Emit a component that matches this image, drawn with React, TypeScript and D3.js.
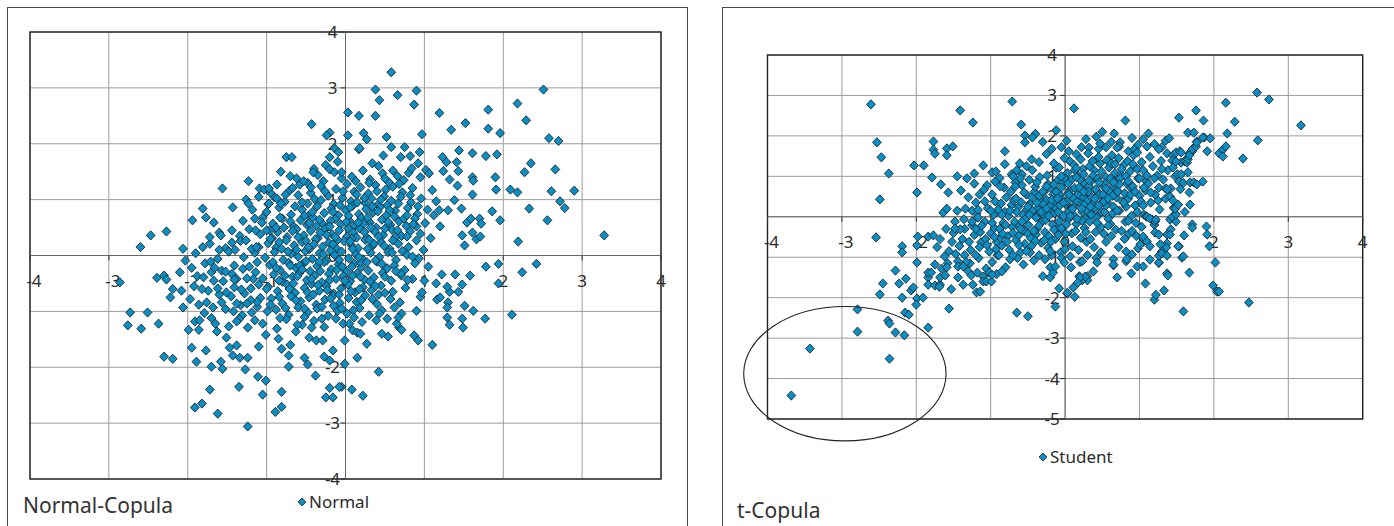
import { useEffect, useRef } from "react"
import * as d3 from "d3"

type Pt = [number, number]

// axis ticks
const normalTicksX = [-4, -3, -2, -1, 0, 1, 2, 3, 4]
const normalTicksY = [-4, -3, -2, -1, 0, 1, 2, 3, 4]
const studentTicksX = [-4, -3, -2, -1, 0, 1, 2, 3, 4]
const studentTicksY = [-5, -4, -3, -2, -1, 0, 1, 2, 3, 4]

// Normal copula: scattered outer points
const normalOuter: Pt[] = [
  [0.03,2.56],[0.17,2.5],[-0.43,2.35],[-0.2,2.2],[-0.24,2.15],[0.03,2.15],[0.17,1.9],[-0.14,1.92],[-0.09,1.85],[-0.75,1.76],
  [-0.68,1.76],[-0.2,1.76],[-0.1,1.68],[-0.82,1.5],[-0.41,1.49],[-0.53,1.33],[-0.2,1.54],[-0.14,1.49],[-0.05,1.49],[-1.56,1.2],
  [-1.23,1.33],[-1.09,1.2],[-1.03,1.18],[-0.97,1.2],[-1.26,1.0],[-1.23,0.93],[-0.87,1.02],[-0.97,0.93],[-0.82,0.93],[-1.81,0.84],
  [-1.43,0.86],[-1.94,0.63],[-1.77,0.68],[-1.67,0.59],[-2.47,0.36],[-2.27,0.43],[-2.6,0.15],[-2.06,0.12],[-1.81,0.15],[-1.72,0.33],
  [-1.58,0.36],[-1.44,0.45],[-1.44,0.23],[-1.15,0.66],[-1.06,0.59],[-1.14,0.45],[-1.26,0.27],[-1.19,0.12],[-1.13,0.15],[-1.0,0.45],
  [-0.95,0.3],
  [0.58,3.28],[0.38,2.97],[0.9,2.95],[0.43,2.78],[0.66,2.87],[0.87,2.7],[0.38,2.5],[1.19,2.55],[1.81,2.61],[2.18,2.72],
  [2.51,2.97],[2.29,2.42],[1.34,2.25],[1.52,2.37],[1.81,2.27],[1.96,2.19],[2.58,2.1],[2.7,2.05],[0.23,2.19],[0.27,2.08],
  [0.52,2.12],[0.97,2.17],[0.18,1.92],[0.58,1.94],[0.75,1.94],[0.48,1.79],[0.7,1.76],[0.82,1.78],[0.94,1.85],[0.34,1.65],
  [0.84,1.56],[0.92,1.65],[1.23,1.76],[1.28,1.67],[1.44,1.88],[1.61,1.83],[1.78,1.78],[1.92,1.81],[1.41,1.67],[1.43,1.51],
  [2.35,1.65],[2.27,1.49],[2.66,1.54],[1.06,1.47],[1.24,1.51],[1.32,1.36],[1.42,1.25],[1.61,1.4],[1.62,1.34],[1.9,1.4],
  [1.91,1.18],[1.61,1.09],[2.09,1.18],[2.18,1.13],[2.61,1.15],[2.9,1.16],[2.72,0.97],[2.78,0.85],[2.33,0.84],[2.56,0.63],
  [1.86,0.79],[1.96,0.63],[2.19,0.25],[3.28,0.36],[2.42,-0.15],[1.19,0.81],[1.3,0.81],[1.38,0.99],[1.47,0.84],[1.54,0.59],
  [1.59,0.66],[1.7,0.66],[1.72,0.57],[1.61,0.41],[1.66,0.29],[1.71,0.34],[1.48,0.36],[1.51,0.18],[1.78,-0.2],[1.94,-0.15],
  [2.24,-0.3],[1.94,-0.5],[2.11,-1.06],[1.77,-1.13],[1.62,-0.99],[1.51,-0.9],[1.48,-1.13],[1.49,-1.29],[1.58,-0.36],[1.39,-0.34],
  [1.43,-0.65],[1.48,-0.52],[1.32,-0.65],[1.29,-0.56],[1.3,-0.84],[1.29,-0.93],[1.29,-1.11],[1.32,-1.24],[1.15,-0.5],[1.22,-0.34],
  [1.16,-0.79],[1.2,-0.75],[1.1,-1.6],[0.9,-0.99],[0.97,-0.66],[0.87,-1.43],[0.92,-1.52],[0.42,-2.08],[0.15,-1.83],[0.08,-2.4],
  [0.22,-2.51],[-0.05,-2.35],[-0.01,-1.94],[0.27,-1.58],[0.46,-1.4],[0.54,-1.45],[0.68,-1.29],[0.71,-1.33],[0.65,-1.22],[0.39,-1.16],
  [0.43,-1.04],[0.53,-1.13],[0.71,-1.04],[0.67,-1.11],[0.09,-1.34],[0.15,-1.38],[0.19,-1.4],[-0.01,-1.52],[0.05,-1.22],[0.11,-1.11],
  [-2.86,-0.48],[-2.39,-0.4],[-2.3,-0.36],[-2.27,-0.43],[-2.1,-0.3],[-2.19,-0.6],[-2.08,-0.63],[-2.22,-0.75],[-2.06,-0.93],[-2.73,-1.02],
  [-2.51,-1.02],[-2.76,-1.25],[-2.59,-1.31],[-2.37,-1.22],[-1.99,-1.33],[-1.86,-1.33],[-1.95,-1.65],[-1.77,-1.7],[-1.89,-1.9],[-2.3,-1.81],
  [-2.19,-1.85],[-1.7,-1.99],[-1.58,-1.9],[-1.56,-2.03],[-1.72,-2.4],[-1.91,-2.72],[-1.82,-2.65],[-1.62,-2.83],[-1.35,-2.35],[-1.27,-2.04],
  [-1.24,-3.06],[-1.11,-2.17],[-1.01,-2.24],[-1.05,-2.49],[-0.89,-2.8],[-0.81,-2.71],[-0.81,-2.44],[-0.85,-1.49],[-0.81,-1.67],[-0.72,-1.79],
  [-0.72,-1.99],[-0.7,-1.6],[-0.38,-2.15],[-0.52,-1.83],[-0.48,-1.95],[-0.25,-2.54],[-0.16,-2.54],[-0.2,-2.37],[-0.08,-2.35],[-0.27,-1.81],
  [-0.16,-1.7],[-0.2,-1.88],[-1.38,-1.61],[-1.43,-1.79],[-1.34,-1.83],[-1.24,-1.83],[-1.51,-1.47],[-1.47,-1.65],[-1.1,-1.63],[-1.01,-1.42],
  [-0.87,-1.31],[-0.63,-1.36],[-0.61,-1.24],[-0.43,-1.29],[-0.46,-1.47],[-0.37,-1.52],[-0.29,-1.52],
  [-2.03,-0.09],[-1.71,-0.11],[-1.66,-0.22],[-1.8,-0.39],[-1.67,-0.45],[-1.62,-0.59],[-1.52,-0.29],[-1.51,-0.66],[-1.86,-0.88],[-1.76,-0.84],
  [-1.85,-1.16],[-1.68,-0.93],[-1.65,-1.22],[-1.63,-1.36],[-1.41,-0.43],[-1.38,-0.86],[-1.38,-1.18],[-1.25,-0.41],[-1.2,-0.59],[-1.32,-0.61],
  [-1.25,-0.86],[-1.19,-1.02],[-1.15,-1.16],[-1.24,-1.29],
]

// Normal copula: dense centre of the cloud
const normalCore: Pt[] = [
  [-0.62,1.38],[-0.35,1.44],[-0.28,1.33],[0.08,1.41],[0.22,1.52],[0.31,1.36],[0.47,1.47],[0.55,1.31],[0.66,1.42],[0.74,1.35],[0.95,1.4],[1.02,1.53],
  [-0.71,1.16],[-0.58,1.27],[-0.44,1.12],[-0.31,1.24],[-0.12,1.19],[0.02,1.28],[0.11,1.14],[0.19,1.22],[0.29,1.11],[0.38,1.26],[0.51,1.18],[0.6,1.23],[0.72,1.13],[0.85,1.21],[1.1,1.17],
  [-0.9,1.04],[-0.77,0.96],[-0.6,1.08],[-0.48,0.93],[-0.39,1.01],[-0.22,1.07],[-0.15,0.92],[-0.04,1.03],[0.07,0.97],[0.14,1.09],[0.25,0.94],[0.33,1.02],[0.41,0.91],[0.49,1.06],[0.58,0.98],[0.7,1.05],[0.83,0.95],[0.96,1.02],[1.15,0.97],
  [-1.0,0.78],[-0.84,0.86],[-0.69,0.73],[-0.55,0.82],[-0.47,0.71],[-0.36,0.88],[-0.27,0.76],[-0.18,0.84],[-0.09,0.72],[0.0,0.81],[0.09,0.89],[0.17,0.74],[0.26,0.83],[0.35,0.77],[0.44,0.87],[0.52,0.72],[0.63,0.8],[0.79,0.85],[0.91,0.74],[1.04,0.82],
  [-0.92,0.57],[-0.8,0.66],[-0.66,0.52],[-0.57,0.63],[-0.49,0.55],[-0.41,0.68],[-0.3,0.58],[-0.23,0.51],[-0.13,0.65],[-0.06,0.56],[0.05,0.62],[0.12,0.53],[0.2,0.67],[0.31,0.59],[0.39,0.5],[0.46,0.64],[0.57,0.55],[0.68,0.61],[0.77,0.53],[0.88,0.66],[1.01,0.58],
  [-0.86,0.42],[-0.74,0.33],[-0.62,0.47],[-0.53,0.36],[-0.44,0.44],[-0.35,0.31],[-0.26,0.48],[-0.17,0.38],[-0.08,0.45],[0.02,0.34],[0.1,0.41],[0.18,0.49],[0.27,0.32],[0.37,0.43],[0.48,0.37],[0.59,0.46],[0.71,0.35],[0.82,0.43],[0.95,0.39],
  [-0.98,0.22],[-0.88,0.14],[-0.75,0.27],[-0.65,0.18],[-0.55,0.24],[-0.46,0.11],[-0.38,0.29],[-0.29,0.16],[-0.21,0.23],[-0.11,0.12],[-0.02,0.26],[0.07,0.19],[0.16,0.13],[0.25,0.28],[0.34,0.17],[0.45,0.24],[0.56,0.12],[0.67,0.21],[0.8,0.15],[0.9,0.27],
  [-1.02,-0.04],[-0.9,0.06],[-0.79,-0.08],[-0.69,0.03],[-0.6,-0.02],[-0.51,0.08],[-0.42,-0.06],[-0.33,0.04],[-0.24,-0.09],[-0.14,0.01],[-0.05,0.07],[0.04,-0.05],[0.13,0.02],[0.22,-0.07],[0.32,0.05],[0.43,-0.03],[0.54,0.06],[0.64,-0.08],[0.78,0.01],[0.93,-0.05],
  [-0.96,-0.17],[-0.83,-0.26],[-0.72,-0.13],[-0.63,-0.22],[-0.54,-0.15],[-0.45,-0.28],[-0.36,-0.19],[-0.27,-0.12],[-0.18,-0.25],[-0.09,-0.16],[0.01,-0.29],[0.11,-0.14],[0.2,-0.21],[0.29,-0.27],[0.4,-0.11],[0.53,-0.23],[0.62,-0.18],[0.75,-0.26],[0.88,-0.14],
  [-1.05,-0.41],[-0.91,-0.34],[-0.8,-0.47],[-0.67,-0.38],[-0.58,-0.31],[-0.49,-0.44],[-0.39,-0.36],[-0.3,-0.48],[-0.21,-0.33],[-0.12,-0.42],[-0.03,-0.37],[0.06,-0.46],[0.15,-0.32],[0.24,-0.43],[0.36,-0.39],[0.47,-0.31],[0.58,-0.45],[0.71,-0.36],[0.85,-0.42],
  [-0.98,-0.56],[-0.86,-0.64],[-0.74,-0.52],[-0.64,-0.67],[-0.52,-0.58],[-0.43,-0.51],[-0.33,-0.63],[-0.24,-0.55],[-0.15,-0.68],[-0.06,-0.59],[0.03,-0.52],[0.12,-0.66],[0.22,-0.57],[0.33,-0.62],[0.45,-0.54],[0.6,-0.65],[0.76,-0.58],
  [-0.94,-0.77],[-0.8,-0.86],[-0.69,-0.73],[-0.57,-0.82],[-0.46,-0.75],[-0.37,-0.88],[-0.26,-0.79],[-0.16,-0.72],[-0.07,-0.85],[0.04,-0.76],[0.14,-0.83],[0.25,-0.71],[0.4,-0.87],[0.57,-0.78],[0.69,-0.84],
  [-0.88,-0.97],[-0.72,-1.06],[-0.6,-0.93],[-0.48,-1.02],[-0.36,-0.95],[-0.22,-1.08],[-0.1,-0.99],[0.02,-1.04],[0.18,-0.94],[0.3,-1.07],[0.46,-0.98],
  [-0.75,-1.14],[-0.55,-1.24],[-0.4,-1.17],[-0.27,-1.28],[-0.12,-1.13],[-0.03,-1.22],[0.21,-1.19],
  [-1.6,0.41],[-1.34,0.35],[-1.22,0.47],[-1.72,0.21],[-1.52,0.13],[-1.33,0.26],[-1.9,0.04],[-1.62,-0.06],[-1.48,0.07],[-1.29,-0.03],
  [-1.15,0.05],[-1.95,-0.22],[-1.78,-0.14],[-1.57,-0.27],[-1.41,-0.18],[-1.3,-0.24],[-1.12,-0.12],[-1.88,-0.37],[-1.55,-0.46],[-1.44,-0.33],
  [-1.17,-0.42],[-1.92,-0.55],[-1.74,-0.63],[-1.41,-0.57],[-1.28,-0.68],[-1.1,-0.52],[-1.97,-0.78],[-1.57,-0.84],[-1.45,-0.73],[-1.33,-0.89],
  [-1.08,-0.76],[-1.79,-1.03],[-1.52,-0.96],[-1.31,-1.07],[-1.12,-0.92],[-1.91,-1.18],[-1.48,-1.27],[-1.35,-1.14],[-1.05,-1.22],
  [-0.55,0.95],[-0.42,0.78],[-0.31,0.99],[-0.19,0.62],[-0.07,0.9],[0.04,0.71],[0.15,0.95],[0.28,0.68],[0.41,0.79],[0.53,0.9],
  [0.62,0.7],[-0.67,0.44],[-0.5,0.26],[-0.37,0.53],[-0.24,0.37],[-0.1,0.28],[0.03,0.49],[0.14,0.32],[0.23,0.57],[0.36,0.21],
  [0.5,0.48],[0.63,0.33],[0.74,0.66],[-0.73,0.07],[-0.58,-0.18],[-0.47,0.15],[-0.33,-0.11],[-0.19,0.09],[-0.04,-0.2],[0.09,0.12],
  [0.19,-0.12],[0.3,0.28],[0.46,-0.15],[0.59,0.05],[0.7,-0.32],[-0.84,-0.45],[-0.71,-0.6],[-0.61,-0.37],[-0.48,-0.66],[-0.35,-0.53],
  [-0.2,-0.44],[-0.08,-0.7],[0.09,-0.36],[0.18,-0.6],[0.31,-0.47],[0.42,-0.7],[-0.88,0.5],[-0.93,0.31],[-0.81,0.12],[-0.67,1.21],
  [-0.48,1.3],[0.13,1.33],[0.4,1.15],[0.82,1.08],[0.9,0.52],[0.99,0.1],[1.08,0.31],[1.12,0.72],[1.2,0.52],[1.05,-0.2],
  [1.0,-0.45],[0.95,-0.74],[-0.52,-0.95],[-0.3,-1.13],[-0.15,-0.9],[0.1,-0.98],[-0.83,-1.12],[-0.95,-0.88],[-1.05,0.68],[-0.98,0.92],
  [-0.87,1.27],[-0.25,1.62],[0.42,1.6],[0.6,1.52],
]

// Normal copula: second layer of the dense centre
const normalCoreExtra: Pt[] = [
  [-0.95,1.12],[-0.83,0.68],[-0.76,1.09],[-0.64,0.88],[-0.52,0.71],[-0.44,1.22],[-0.33,0.64],[-0.26,1.15],[-0.16,0.78],[-0.03,1.15],
  [0.06,0.86],[0.16,0.59],[0.24,1.03],[0.34,0.88],[0.45,1.0],[0.56,0.81],[0.67,0.93],[0.78,0.72],[0.92,0.88],
  [-1.08,0.38],[-0.96,0.45],[-0.78,0.5],[-0.7,0.61],[-0.6,0.33],[-0.46,0.58],[-0.32,0.41],[-0.2,0.52],[-0.13,0.33],[0.01,0.6],
  [0.08,0.3],[0.24,0.42],[0.32,0.5],[0.42,0.34],[0.54,0.6],[0.66,0.45],[0.78,0.34],[0.86,0.56],
  [-1.1,0.15],[-0.92,-0.12],[-0.84,0.24],[-0.7,-0.18],[-0.62,0.1],[-0.5,-0.1],[-0.4,0.2],[-0.28,0.02],[-0.16,0.2],[-0.08,-0.08],
  [0.06,0.25],[0.17,-0.03],[0.28,0.12],[0.38,-0.09],[0.49,0.17],[0.6,0.27],[0.72,0.08],[0.85,-0.02],
  [-1.14,-0.3],[-1.0,-0.6],[-0.88,-0.22],[-0.77,-0.36],[-0.66,-0.5],[-0.55,-0.25],[-0.43,-0.42],[-0.32,-0.28],[-0.23,-0.62],[-0.11,-0.26],
  [-0.01,-0.45],[0.08,-0.2],[0.19,-0.38],[0.27,-0.12],[0.38,-0.55],[0.5,-0.38],[0.64,-0.28],[0.79,-0.44],
  [-1.12,-0.83],[-0.99,-1.0],[-0.84,-0.74],[-0.76,-0.94],[-0.63,-0.8],[-0.52,-1.1],[-0.41,-0.7],[-0.3,-0.92],[-0.19,-0.77],[-0.05,-0.95],
  [0.07,-0.64],[0.2,-0.8],[0.34,-0.78],[0.5,-0.67],[0.62,-0.93],
  [-1.18,0.82],[-1.1,1.05],[-0.7,1.42],[-0.4,1.55],[-0.05,1.38],[0.3,1.3],[0.5,1.38],[0.68,1.28],[0.8,1.48],[-1.3,0.62],
  [-1.4,0.1],[-1.22,-0.2],[-1.38,-0.42],[-1.2,-0.8],[-1.42,-1.0],[-1.6,-0.7],[-1.7,-0.3],[-1.6,0.1],[-1.82,-0.6],[-1.7,-1.12],
]

// t copula: scattered outer points
const studentOuter: Pt[] = [
  [-2.61,2.78],[-1.41,2.63],[-1.24,2.33],[-0.71,2.85],[-0.59,2.28],[-0.54,2.01],[-0.44,1.96],[-0.54,1.84],[-2.53,1.84],[-2.47,1.47],
  [-2.37,1.07],[-2.49,0.43],[-1.77,1.86],[-1.77,1.66],[-1.75,1.56],[-1.59,1.69],[-1.51,1.74],[-1.59,1.52],[-2.03,1.27],[-1.9,1.27],
  [-1.79,0.97],[-1.99,0.6],[-2.54,-0.51],[-0.81,1.62],[-1.67,0.8],[-1.57,0.6],[-1.45,1.0],[-1.4,0.65],[-1.32,0.95],[-1.22,1.07],
  [-1.22,0.82],[-1.1,1.27],[-1.64,0.1],[-1.59,0.2],[-1.45,0.15],[-1.34,0.2],[-1.25,0.15],[-1.17,0.17],[-1.17,-0.02],[-1.09,0.67],
  [-1.08,0.38],[-1.48,-0.12],[-1.41,-0.31],[-1.48,-0.29],[-2.19,-0.73],[-2.19,-0.88],[-1.99,-0.71],[-1.98,-0.49],[-1.84,-0.49],[-1.77,-0.46],
  [-0.81,1.3],[-0.98,1.1],[-0.93,1.12],[-0.94,0.87],[-0.87,0.75],[-0.7,1.0],[-0.61,1.32],[-0.67,0.75],[-1.36,-0.06],[-1.25,-0.12],
  [-1.2,-0.3],
  [-2.28,-1.33],[-2.45,-1.65],[-2.49,-1.92],[-2.23,-1.65],[-2.14,-1.53],[-2.19,-2.0],[-2.07,-1.82],[-2.04,-1.75],[-1.99,-2.02],[-1.91,-2.0],
  [-2.0,-2.17],[-1.99,-1.13],[-1.84,-1.5],[-1.84,-1.68],[-1.75,-1.7],[-1.68,-1.68],[-1.69,-1.73],[-1.84,-1.38],[-1.8,-1.38],[-1.75,-1.18],
  [-1.68,-1.5],[-1.61,-1.45],[-1.59,-1.25],[-1.53,-1.79],[-1.56,-2.27],[-1.44,-1.23],[-1.37,-1.23],[-1.44,-1.5],[-1.37,-1.68],[-1.19,-1.87],
  [-1.14,-1.85],[-1.24,-1.68],[-1.1,-1.6],[-1.06,-1.6],[-0.99,-1.6],[-0.98,-1.43],[-0.65,-2.37],[-0.5,-2.46],[-2.79,-2.29],[-2.79,-2.84],
  [-2.38,-2.57],[-2.36,-2.64],[-2.28,-2.86],[-2.16,-2.93],[-1.84,-2.74],[-2.15,-2.37],[-2.1,-2.42],[-3.43,-3.26],[-2.36,-3.51],[-3.68,-4.42],
  [-0.13,-2.22],[-0.08,-1.77],[0.03,-1.9],[0.13,-1.98],[0.11,-1.75],[1.08,-1.65],[1.2,-2.05],[1.22,-1.93],[1.33,-1.82],[1.59,-2.34],
  [1.67,-1.38],[1.99,-1.7],[2.04,-1.85],[2.07,-1.85],[2.47,-2.12],[2.02,-1.13],[1.37,-1.4],[1.38,-1.45],[0.89,-1.4],[0.97,-1.23],
  [1.05,-1.23],[0.7,-1.5],[0.38,-1.35],[0.3,-1.47],[0.3,-1.57],[0.23,-1.57],[0.19,-1.47],[0.65,-1.2],[0.82,-1.1],[1.26,-1.14],
  [0.43,-1.13],[0.23,-1.1],[-0.01,-1.13],[-0.2,-1.25],[-0.2,-1.5],[-0.3,-1.47],[-0.16,-1.38],[-0.13,-1.23],
  [2.58,3.07],[2.74,2.9],[2.16,2.82],[3.17,2.26],[2.28,2.35],[2.18,2.06],[2.59,1.89],[2.39,1.44],[2.07,1.57],[2.12,1.66],
  [2.16,1.74],[2.12,1.49],[1.76,2.63],[1.86,2.38],[1.53,2.45],[0.81,2.38],[0.12,2.68],[-0.12,2.14],[1.65,2.08],[1.73,2.08],
  [1.87,1.96],[1.95,1.94],[1.91,1.62],[1.77,1.86],[1.75,1.74],[1.71,1.62],[1.67,1.57],[1.64,1.44],[1.4,1.94],[1.12,2.06],
  [0.66,2.06],[0.42,1.98],[0.47,1.81],[0.74,1.84],[0.73,1.74],[0.7,1.71],[1.1,1.74],[0.32,1.71],[0.31,1.57],[0.93,1.67],
  [0.97,1.59],[1.26,1.67],[1.37,1.57],[1.45,1.52],[1.49,1.59],[1.54,1.62],[1.44,1.39],[1.56,1.34],[1.61,1.37],[1.85,0.87],
  [1.51,1.05],[1.53,0.87],[1.59,0.84],[1.67,0.6],[1.48,0.25],[1.61,0.12],[1.68,0.3],[1.71,-0.19],[1.71,-0.27],[1.9,-0.24],
  [1.91,-0.44],[1.94,-0.73],[1.6,-0.46],[1.53,-0.73],[1.41,-0.07],[1.45,-0.02],[1.49,-0.12],[1.42,-0.31],[1.37,-0.44],[1.37,-0.66],
  [1.09,0.01],[1.17,-0.07],[1.21,-0.12],[1.21,-0.39],[1.26,-0.44],[1.14,-1.06],[1.26,-1.13],[1.01,-0.68],[1.06,-0.56],[1.57,-1.01],
  [1.44,0.0],[1.49,0.06],[1.48,0.2],[1.52,0.3],[1.37,0.68],[1.41,0.5],[1.45,0.4],[1.1,0.0],[1.14,-0.04],[1.22,-0.07],
  [1.56,1.05],[1.55,0.68],[1.65,1.1],[1.68,0.85],[1.73,0.85],[1.77,0.8],[1.45,1.22],[1.49,1.37],[1.56,1.59],[1.64,1.34],
  [1.65,1.42],[1.67,1.52],[1.71,1.67],[1.76,1.74],[1.77,1.84],[1.85,1.96],[1.05,-0.49],[1.1,-0.61],[1.14,-0.73],[1.36,-0.76],
  [1.28,-0.68],[1.3,-0.86],[1.52,-0.73],[1.41,-0.44],[1.26,-0.96],[1.3,-0.91],[1.37,-0.96],[1.59,-0.98],[0.82,-0.86],[0.83,-1.05],
  [0.9,-0.93],[0.65,-1.05],[0.65,-1.18],[0.27,-1.48],[0.2,-1.5],[0.17,-1.63],[0.03,-1.88],
]

// t copula: dense band
const studentCore: Pt[] = [
  [-1.27,-0.82],[-1.22,-0.45],[-1.16,-1.02],[-1.25,-0.21],[-1.13,-0.63],[-1.19,0.08],[-1.28,-1.15],[-1.14,-0.38],
  [-1.07,-0.55],[-1.02,-0.86],[-0.95,-0.28],[-1.08,-0.12],[-0.98,-1.12],[-0.92,-0.62],[-1.04,0.21],[-0.96,0.05],[-0.91,-0.95],[-1.0,-0.41],[-0.94,0.38],[-1.06,-1.28],
  [-0.88,-0.3],[-0.85,-0.71],[-0.81,0.12],[-0.77,-0.48],[-0.74,-1.05],[-0.72,0.29],[-0.89,-0.95],[-0.83,-0.15],[-0.79,0.48],[-0.75,-0.82],[-0.71,-0.25],[-0.86,0.33],[-0.8,-1.25],[-0.73,0.62],[-0.87,-0.52],[-0.76,0.02],
  [-0.68,-0.12],[-0.66,-0.58],[-0.63,0.24],[-0.6,-0.88],[-0.57,0.06],[-0.55,-0.35],[-0.52,0.55],[-0.69,0.41],[-0.64,-1.02],[-0.61,-0.22],[-0.58,0.78],[-0.54,-0.67],[-0.51,0.18],[-0.67,0.85],[-0.62,-0.45],[-0.59,0.36],[-0.56,-1.18],[-0.53,-0.05],[-0.65,0.12],[-0.5,-0.42],
  [-0.49,-0.21],[-0.47,0.33],[-0.45,-0.72],[-0.43,0.07],[-0.41,0.62],[-0.39,-0.44],[-0.37,0.21],[-0.35,-0.95],[-0.33,0.45],[-0.31,-0.12],[-0.48,0.91],[-0.46,-0.53],[-0.44,0.15],[-0.42,-1.08],[-0.4,0.74],[-0.38,-0.31],[-0.36,0.02],[-0.34,0.98],[-0.32,-0.64],[-0.3,0.28],[-0.44,1.15],[-0.39,-0.02],[-0.35,0.52],[-0.47,-0.88],
  [-0.29,0.05],[-0.27,-0.38],[-0.25,0.42],[-0.23,-0.77],[-0.21,0.18],[-0.19,0.71],[-0.17,-0.19],[-0.15,0.35],[-0.13,-0.55],[-0.11,0.88],[-0.28,0.62],[-0.26,-0.08],[-0.24,1.02],[-0.22,-0.48],[-0.2,0.27],[-0.18,-0.95],[-0.16,0.55],[-0.14,0.09],[-0.12,1.21],[-0.1,-0.3],[-0.27,-1.05],[-0.23,0.81],[-0.19,-0.62],[-0.15,1.32],[-0.12,0.22],[-0.29,0.31],
  [-0.09,0.12],[-0.07,0.55],[-0.05,-0.28],[-0.03,0.85],[-0.01,-0.62],[0.01,0.31],[0.03,1.08],[0.05,-0.05],[0.07,0.67],[0.09,-0.41],[-0.08,1.22],[-0.06,-0.88],[-0.04,0.42],[-0.02,0.02],[0.0,0.95],[0.02,-0.19],[0.04,0.58],[0.06,1.38],[0.08,0.21],[0.1,-0.73],[-0.09,-0.45],[-0.05,0.72],[-0.01,1.45],[0.03,0.38],[0.07,-0.98],[0.09,0.92],[-0.07,0.28],[0.05,0.12],
  [0.11,0.25],[0.13,0.71],[0.15,-0.18],[0.17,1.02],[0.19,0.45],[0.21,-0.52],[0.23,0.12],[0.25,0.85],[0.27,-0.05],[0.29,0.58],[0.12,1.28],[0.14,-0.35],[0.16,0.38],[0.18,-0.82],[0.2,0.92],[0.22,0.31],[0.24,1.18],[0.26,-0.28],[0.28,0.66],[0.3,0.15],[0.13,0.02],[0.17,0.55],[0.21,1.42],[0.25,0.48],[0.29,-0.62],[0.15,0.98],[0.23,-0.1],[0.27,0.32],
  [0.31,0.42],[0.33,-0.12],[0.35,0.88],[0.37,0.18],[0.39,1.15],[0.41,-0.38],[0.43,0.62],[0.45,0.05],[0.47,1.32],[0.49,0.35],[0.32,0.75],[0.34,-0.55],[0.36,0.48],[0.38,1.02],[0.4,0.22],[0.42,-0.02],[0.44,0.95],[0.46,0.55],[0.48,-0.25],[0.5,0.78],[0.33,1.25],[0.37,0.31],[0.41,0.68],[0.45,1.48],[0.49,0.12],[0.39,-0.75],
  [0.51,0.55],[0.53,0.12],[0.55,0.98],[0.57,0.35],[0.59,1.22],[0.61,-0.18],[0.63,0.72],[0.65,0.25],[0.67,1.08],[0.69,0.48],[0.52,-0.42],[0.54,0.82],[0.56,1.4],[0.58,-0.05],[0.6,0.62],[0.62,1.32],[0.64,0.08],[0.66,0.88],[0.68,-0.32],[0.7,0.65],[0.55,0.28],[0.63,1.52],
  [0.71,0.62],[0.73,0.15],[0.75,1.05],[0.77,0.38],[0.79,1.28],[0.81,-0.12],[0.83,0.82],[0.85,0.45],[0.87,1.12],[0.89,0.02],[0.72,1.45],[0.76,-0.35],[0.8,0.58],[0.84,1.38],[0.88,0.72],[0.74,0.95],[0.82,0.25],[0.86,-0.42],
  [0.91,0.75],[0.94,0.28],[0.97,1.18],[1.0,0.52],[1.03,1.35],[1.06,0.05],[1.09,0.88],[0.92,1.52],[0.95,-0.15],[0.98,0.95],[1.02,0.38],[1.05,1.15],[1.08,0.65],[0.96,-0.48],
  [1.12,0.82],[1.15,0.35],[1.18,1.25],[1.21,0.55],[1.24,1.02],[1.27,0.18],[1.14,1.48],[1.2,-0.2],[1.26,0.72],[1.29,1.38],
  [1.32,0.92],[1.35,0.45],[1.38,1.15],[1.42,0.7],[1.46,0.22],[1.48,1.0],
  [-1.42,-0.72],[-1.35,-0.95],[-1.3,-1.35],[-1.38,-0.55],[-1.33,-1.12],[-1.47,-0.92],[-1.26,-1.45],[-1.44,-1.1],[-1.52,-0.62],[-1.56,-0.85],
  [-1.62,-0.98],[-1.58,-1.15],[-1.72,-0.75],[-1.66,-1.28],[-1.29,-0.62],[-1.18,-1.38],[-1.1,-1.48],[-1.02,-1.38],[-0.92,-1.42],[-0.85,-1.35],
  [-1.68,-0.55],[-1.5,-0.4],[-1.6,-0.3],[-1.35,-0.3],
  [-1.15,0.55],[-1.05,0.78],[-0.98,0.55],[-0.88,0.95],[-0.82,0.72],[-0.65,1.15],[-0.72,1.05],[-1.2,0.35],[-1.3,0.48],[-0.58,1.05],
  [-0.52,1.25],[-0.45,1.42],[-0.35,1.35],[-0.25,1.55],[-0.18,1.68],[-0.05,1.72],[0.05,1.62],[0.15,1.55],[0.22,1.72],[-0.3,1.85],
  [0.02,1.88],[-0.4,2.05],
  [0.55,-0.62],[0.62,-0.48],[0.72,-0.75],[0.8,-0.55],[0.9,-0.35],[0.98,-0.78],[1.05,-0.62],[0.48,-0.88],[0.42,-1.02],[0.3,-0.95],
  [0.2,-1.12],[0.08,-1.25],[-0.05,-1.02],
  [0.45,1.68],[0.55,1.72],[0.62,1.85],[0.85,1.62],[0.98,1.78],[1.05,1.92],[1.2,1.8],[1.3,1.72],[1.35,1.88],[0.9,1.95],
  [0.5,2.1],[0.28,1.92],
]

// t copula: second layer of the dense band
const studentCoreExtra: Pt[] = [
  [-1.2,-0.95],[-1.12,-0.22],[-1.05,-0.7],[-0.98,-0.15],[-0.93,-0.8],[-0.9,0.18],[-0.84,-0.42],[-0.78,-0.62],[-0.74,0.15],[-0.7,-0.95],
  [-0.66,0.45],[-0.62,-0.7],[-0.58,-0.12],[-0.55,0.6],[-0.52,-0.85],[-0.48,0.05],[-0.45,0.48],[-0.42,-0.35],[-0.38,0.85],[-0.35,-0.22],
  [-0.32,0.12],[-0.28,-0.58],[-0.25,0.75],[-0.22,0.02],[-0.18,0.42],[-0.15,-0.32],[-0.12,0.62],[-0.08,-0.12],[-0.05,1.0],[-0.02,0.35],
  [0.01,-0.42],[0.04,0.82],[0.07,0.02],[0.1,0.48],[0.13,1.15],[0.16,-0.05],[0.19,0.72],[0.22,0.2],[0.25,1.05],[0.28,-0.38],
  [0.31,0.62],[0.34,0.25],[0.37,1.38],[0.4,0.45],[0.43,-0.15],[0.46,0.85],[0.49,1.12],[0.52,0.38],[0.55,0.7],[0.58,-0.22],
  [0.61,0.95],[0.64,0.52],[0.67,1.3],[0.7,0.15],[0.73,0.8],[0.76,1.18],[0.79,0.35],[0.82,1.0],[0.85,-0.1],[0.88,0.55],
  [0.91,1.3],[0.94,0.62],[0.97,0.12],[1.0,0.95],[1.03,-0.25],[1.06,0.72],[1.1,1.02],[1.15,0.6],[1.2,0.95],[1.25,0.4],
  [1.3,1.18],[1.35,0.7],[-0.6,0.95],[-0.4,-0.6],[-0.2,-0.85],[0.0,-0.8],[0.15,1.2],[0.35,0.05],[-0.1,0.45],[-0.3,0.62],
  [-0.85,0.05],[-1.0,0.15],[-1.15,-0.75],[-0.7,-0.4],[-0.5,0.25],[-0.25,0.2],[0.05,0.55],[0.25,0.62],[0.45,0.28],[0.65,0.85],
  [0.85,0.88],[1.05,0.28],[-0.95,-0.5],[-0.8,-0.2],[-0.6,-0.3],[-0.38,0.35],[-0.15,0.8],[0.1,0.2],[0.32,0.9],[0.58,0.45],
]

// the hand-drawn ellipse around the lower tail: centre and radii in data units
const tailCentre: Pt = [-2.96, -3.88]
const tailRadii: Pt = [1.36, 1.66]

const FONT = "'Noto Sans', 'DejaVu Sans', sans-serif"
const FILL = "#0a8fc4"
const EDGE = "#1a2730"
const diamond = "M0,-4.6L4.4,0L0,4.6L-4.4,0Z"

type Panel = {
  points: Pt[]
  ticksX: number[]
  ticksY: number[]
  domainY: [number, number]
  frame: { x0: number; y0: number; x1: number; y1: number }
  box: { x: number; y: number; w: number; h: number }
  title: string
  titlePos: [number, number]
  legend: string
  legendPos: [number, number]
}

const panels: Panel[] = [
  {
    points: [...normalCore, ...normalCoreExtra, ...normalOuter],
    ticksX: normalTicksX,
    ticksY: normalTicksY,
    domainY: [-4, 4],
    frame: { x0: 30, y0: 32, x1: 661, y1: 479 },
    box: { x: 7.5, y: 7.5, w: 680, h: 540 },
    title: "Normal-Copula",
    titlePos: [23, 513],
    legend: "Normal",
    legendPos: [302, 502],
  },
  {
    points: [...studentCore, ...studentCoreExtra, ...studentOuter],
    ticksX: studentTicksX,
    ticksY: studentTicksY,
    domainY: [-5, 4],
    frame: { x0: 767.5, y0: 55, x1: 1362.7, y1: 419 },
    box: { x: 722.5, y: 7.5, w: 700, h: 540 },
    title: "t-Copula",
    titlePos: [737, 518],
    legend: "Student",
    legendPos: [1043, 457],
  },
]

export default function App() {
  const svgRef = useRef<SVGSVGElement>(null)

  useEffect(() => {
    if (!svgRef.current) return
    const svg = d3.select(svgRef.current)
    svg.selectAll("*").remove()

    svg.append("rect").attr("width", 1394).attr("height", 526).attr("fill", "white")

    panels.forEach((p, idx) => {
      const { frame } = p
      const x = d3.scaleLinear().domain([-4, 4]).range([frame.x0, frame.x1])
      const y = d3.scaleLinear().domain(p.domainY).range([frame.y1, frame.y0])
      const g = svg.append("g")

      // outer panel border
      g.append("rect")
        .attr("x", p.box.x).attr("y", p.box.y)
        .attr("width", p.box.w).attr("height", p.box.h)
        .attr("fill", "none").attr("stroke", "#4a4a4a").attr("stroke-width", 1)

      // grid
      g.selectAll(".gx").data(p.ticksX).join("line")
        .attr("x1", (d) => x(d)).attr("x2", (d) => x(d))
        .attr("y1", frame.y0).attr("y2", frame.y1)
        .attr("stroke", "#9c9c9c").attr("stroke-width", 1)
      g.selectAll(".gy").data(p.ticksY).join("line")
        .attr("y1", (d) => y(d)).attr("y2", (d) => y(d))
        .attr("x1", frame.x0).attr("x2", frame.x1)
        .attr("stroke", "#9c9c9c").attr("stroke-width", 1)

      // plot frame
      g.append("rect")
        .attr("x", frame.x0).attr("y", frame.y0)
        .attr("width", frame.x1 - frame.x0).attr("height", frame.y1 - frame.y0)
        .attr("fill", "none").attr("stroke", "#222").attr("stroke-width", 1.4)

      // axes through the origin
      const ax = x(0)
      const ay = y(0)
      g.append("line").attr("x1", ax).attr("x2", ax).attr("y1", frame.y0).attr("y2", frame.y1)
        .attr("stroke", "#666").attr("stroke-width", 1)
      g.append("line").attr("x1", frame.x0).attr("x2", frame.x1).attr("y1", ay).attr("y2", ay)
        .attr("stroke", "#666").attr("stroke-width", 1)
      g.selectAll(".tx").data(p.ticksX).join("line")
        .attr("x1", (d) => x(d)).attr("x2", (d) => x(d))
        .attr("y1", ay).attr("y2", ay + 5)
        .attr("stroke", "#333")
      g.selectAll(".ty").data(p.ticksY).join("line")
        .attr("x1", ax - 5).attr("x2", ax)
        .attr("y1", (d) => y(d)).attr("y2", (d) => y(d))
        .attr("stroke", "#333")

      // tick labels
      g.selectAll(".lx").data(p.ticksX).join("text")
        .attr("x", (d) => x(d) + (d < 0 ? 4 : 0))
        .attr("y", ay + 31)
        .attr("text-anchor", "middle")
        .style("font-family", FONT).style("font-size", "17px").attr("fill", "#2a2a2a")
        .text((d) => String(d))
      g.selectAll(".ly").data(p.ticksY).join("text")
        .attr("x", ax - 13)
        .attr("y", (d) => y(d) + 6)
        .attr("text-anchor", "middle")
        .style("font-family", FONT).style("font-size", "17px").attr("fill", "#2a2a2a")
        .text((d) => String(d))

      // points
      g.selectAll(".pt").data(p.points).join("path")
        .attr("d", diamond)
        .attr("transform", (d) => `translate(${x(d[0])},${y(d[1])})`)
        .attr("fill", FILL).attr("stroke", EDGE).attr("stroke-width", 0.9)

      // ellipse marking the joint lower tail
      if (idx === 1) {
        g.append("ellipse")
          .attr("cx", x(tailCentre[0])).attr("cy", y(tailCentre[1]))
          .attr("rx", x(tailRadii[0]) - x(0)).attr("ry", y(0) - y(tailRadii[1]))
          .attr("fill", "none").attr("stroke", "#222").attr("stroke-width", 1.1)
      }

      // legend
      g.append("path").attr("d", "M0,-4L4,0L0,4L-4,0Z")
        .attr("transform", `translate(${p.legendPos[0]},${p.legendPos[1]})`)
        .attr("fill", FILL).attr("stroke", EDGE).attr("stroke-width", 0.8)
      g.append("text")
        .attr("x", p.legendPos[0] + 7).attr("y", p.legendPos[1] + 6)
        .style("font-family", FONT).style("font-size", "17px").attr("fill", "#2a2a2a")
        .text(p.legend)

      // panel title
      g.append("text")
        .attr("x", p.titlePos[0]).attr("y", p.titlePos[1])
        .style("font-family", FONT).style("font-size", "21px").attr("fill", "#333")
        .text(p.title)
    })
  }, [])

  return (
    <svg
      ref={svgRef}
      width={1394}
      height={526}
      style={{ position: "absolute", left: 0, top: 0, display: "block" }}
    />
  )
}
